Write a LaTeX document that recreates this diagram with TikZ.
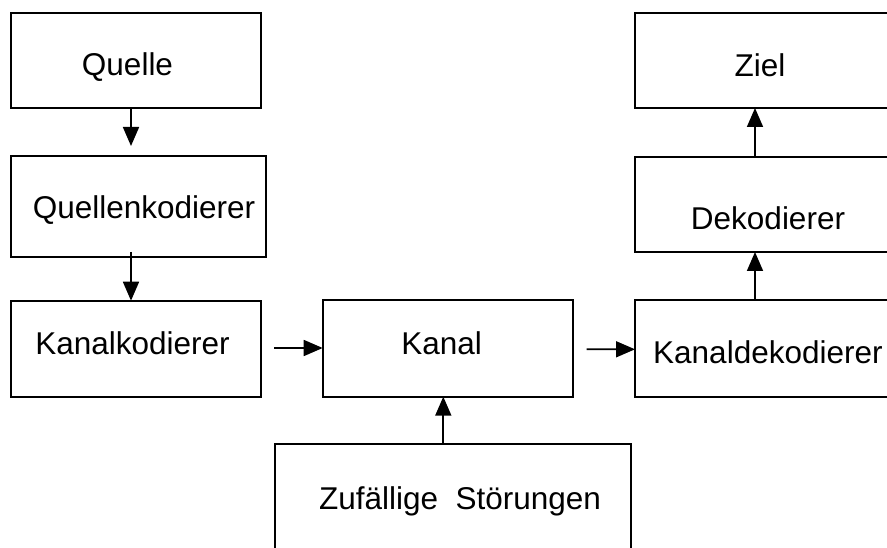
\documentclass[tikz,border=0pt]{standalone}
\usepackage{fontspec}
\setmainfont{Liberation Sans}
\usetikzlibrary{arrows.meta}
\tikzset{
  box/.style={draw=black, line width=1.7pt, rectangle, inner sep=0pt, outer sep=0pt},
  lbl/.style={inner sep=0pt, anchor=base, font=\fontsize{31.5}{36}\selectfont},
  arr/.style={line width=1.7pt, -{Triangle[length=19pt,width=16pt]}}
}
\begin{document}
\begin{tikzpicture}[x=1pt,y=1pt]
\clip (0,0) rectangle (887,547);
\fill[white] (0,0) rectangle (887,547);
% boxes
\node[box, minimum width=250pt, minimum height=95.3pt] (q)  at (136,486.65) {};
\node[box, minimum width=255pt, minimum height=101pt]  (qk) at (138.5,340.5) {};
\node[box, minimum width=250pt, minimum height=96pt]   (kk) at (136,198.3) {};
\node[box, minimum width=250.3pt, minimum height=96.7pt] (ka) at (447.85,198.65) {};
\node[box, minimum width=356pt, minimum height=116pt]  (zs) at (453,45) {};
\node[box, minimum width=260pt, minimum height=95.3pt] (zi) at (765,486.65) {};
\node[box, minimum width=260pt, minimum height=95.3pt] (de) at (765,342.65) {};
\node[box, minimum width=260pt, minimum height=97.3pt] (kd) at (765,198.35) {};
% texts
\node[lbl] (tq)  at (127.5,471.3) {Quelle};
\node[lbl] (tqk) at (144,328) {Quellenkodierer};
\node[lbl] (tkk) at (132.5,193) {Kanalkodierer};
\node[lbl] (tka) at (441.7,192) {Kanal};
\node[lbl] (tzs) at (460,37.7) {Zufällige~~Störungen};
\node[lbl] (tzi) at (760,470.3) {Ziel};
\node[lbl] (tde) at (768,317) {Dekodierer};
\node[lbl, anchor=base west] (tkd) at (653,183.7) {Kanaldekodierer};
% connectors
\draw[arr, shorten >=10pt] ([xshift=-5pt]q.south) -- ([xshift=-7.5pt]qk.north);
\draw[arr, shorten <=-5pt] ([xshift=-7.5pt]qk.south) -- ([xshift=-5pt]kk.north);
\draw[arr, shorten <=13pt] ([yshift=0.7pt]kk.east) -- ([yshift=0.35pt]ka.west);
\draw[arr, shorten <=13.7pt] ([yshift=-0.95pt]ka.east) -- ([yshift=-0.65pt]kd.west);
\draw[arr] ([xshift=-9.7pt]zs.north) -- ([xshift=-4.55pt]ka.south);
\draw[arr] ([xshift=-10pt]kd.north) -- ([xshift=-10pt]de.south);
\draw[arr] ([xshift=-10pt]de.north) -- ([xshift=-10pt]zi.south);
\end{tikzpicture}
\end{document}
